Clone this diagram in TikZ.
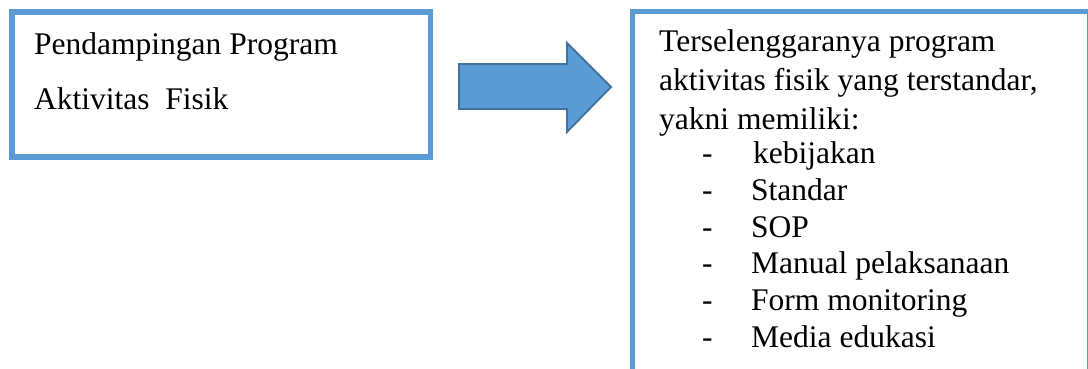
\documentclass[tikz,border=0pt]{standalone}
\usepackage{fontspec}
\setmainfont{Liberation Serif}
\definecolor{boxblue}{HTML}{5B9BD5}
\definecolor{arrowedge}{HTML}{41719C}
\begin{document}
\begin{tikzpicture}[x=1pt,y=-1pt,
  frame/.style={draw=boxblue,line width=5.5pt},
  txt/.style={anchor=base west,inner sep=0pt,font=\fontsize{31.5}{31.5}\selectfont},
  dashmark/.style={anchor=base west,inner sep=0pt,font=\fontsize{31.5}{31.5}\selectfont}]
\useasboundingbox (0,0) rectangle (1088,369);
\clip (0,0) rectangle (1088,369);
\fill[white] (0,0) rectangle (1088,369);

% left box: the activity
\draw[frame] (12,12) rectangle (430.5,157);
\node[txt] (l1) at (34,55) {Pendampingan Program};
\node[txt] (l2) at (34,110) {Aktivitas\ \ Fisik};

% block arrow between the boxes
\draw[fill=boxblue,draw=arrowedge,line width=1.8pt,line join=miter]
  (459,64) -- (567,64) -- (567,43) -- (611,87) -- (567,132) -- (567,109) -- (459,109) -- cycle;

% right box: the outcome (runs past the page edge)
\draw[frame] (632.5,11.5) rectangle (1089.5,400);
\node[txt] (r1) at (659,52) {Terselenggaranya program};
\node[txt] (r2) at (659,91) {aktivitas fisik yang terstandar,};
\node[txt] (r3) at (659,129) {yakni memiliki:};

\foreach \name/\yy/\item/\xx in {i1/163/kebijakan/753, i2/200/Standar/751, i3/237/SOP/751,
    i4/273/Manual pelaksanaan/751, i5/310/Form monitoring/751, i6/347/Media edukasi/751}{
  \node[dashmark] (d\name) at (702,\yy) {-};
  \node[txt] (\name) at (\xx,\yy) {\item};
}
\end{tikzpicture}
\end{document}
